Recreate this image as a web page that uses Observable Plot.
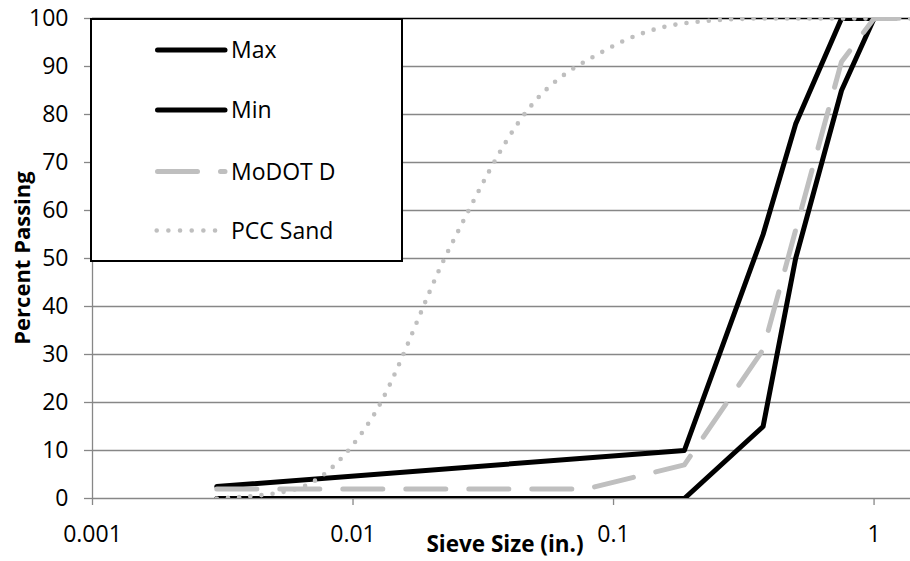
<!DOCTYPE html>
<html>
<head>
<meta charset="utf-8">
<script src="https://cdn.jsdelivr.net/npm/d3@7"></script>
<script src="https://cdn.jsdelivr.net/npm/@observablehq/plot@0.6"></script>
<style>
  body { margin: 0; background: #fff; }
  #chart { position: relative; width: 910px; height: 561px; overflow: hidden; }
</style>
</head>
<body>
<div id="chart"></div>
<script>
// Gradation curves: sieve opening (in.) vs. percent passing
const sieveMax = [0.003, 0.187, 0.375, 0.5, 0.75, 1];
const passMax  = [2.5, 10, 55, 78, 100, 100];

const sieveMin = [0.003, 0.187, 0.375, 0.5, 0.75, 1];
const passMin  = [0, 0, 15, 50, 85, 100];

const sieveModot = [0.003, 0.0787, 0.187, 0.375, 0.75, 1, 1.5];
const passModot  = [2, 2, 7, 31, 91, 100, 100];

const sievePcc = [0.003, 0.0059, 0.0117, 0.0234, 0.0469, 0.0937, 0.187, 0.375, 0.75, 1, 1.5];
const passPcc  = [0, 1.8, 16.4, 52, 81, 93.5, 99, 100, 100, 100, 100];

const seriesNames = ["Max", "Min", "MoDOT D", "PCC Sand"];
const yTicks = [0, 10, 20, 30, 40, 50, 60, 70, 80, 90, 100];
const xTicks = [0.001, 0.01, 0.1, 1];

const rows = (xs, ys) => xs.map((x, i) => ({x, y: ys[i]}));
const dataMax = rows(sieveMax, passMax);
const dataMin = rows(sieveMin, passMin);
const dataModot = rows(sieveModot, passModot);
const dataPcc = rows(sievePcc, passPcc);

const FONT = "'Open Sans', 'DejaVu Sans', sans-serif";
const GRID = "#878787";
const LIGHT = "#bfbfbf";

const lineStyles = [
  {stroke: "#000", strokeWidth: 5, strokeLinecap: "round", strokeLinejoin: "round"},
  {stroke: "#000", strokeWidth: 5, strokeLinecap: "round", strokeLinejoin: "round"},
  {stroke: LIGHT, strokeWidth: 5, strokeLinecap: "round", strokeLinejoin: "round", strokeDasharray: "40 23"},
  {stroke: LIGHT, strokeWidth: 4.6, strokeLinecap: "round", strokeLinejoin: "round", strokeDasharray: "0 11.2"}
];

const plot = Plot.plot({
  width: 910,
  height: 561,
  marginTop: 18,
  marginBottom: 63,
  marginLeft: 92,
  marginRight: 0,
  style: {fontFamily: FONT, fontSize: "23px", color: "#000", background: "#fff"},
  x: {type: "log", domain: [0.001, 1.38]},
  y: {domain: [0, 100]},
  marks: [
    Plot.ruleY(yTicks.filter(d => d > 0 && d < 100), {stroke: GRID, strokeWidth: 1.3}),
    Plot.ruleY([100], {stroke: "#000", strokeWidth: 1.5}),
    Plot.axisY({ticks: yTicks, tickSize: 8, tickPadding: 16, stroke: GRID, strokeWidth: 1.3, fill: "#000",
      label: null, tickFormat: d => String(d)}),
    Plot.axisX({ticks: xTicks, tickSize: 7, tickPadding: 20, stroke: GRID, strokeWidth: 1.3, fill: "#000",
      label: null, tickFormat: d => String(d)}),
    Plot.ruleX([0.001], {stroke: GRID, strokeWidth: 1.3}),
    Plot.ruleY([0], {stroke: GRID, strokeWidth: 1.3}),
    Plot.line(dataMax, {x: "x", y: "y", clip: true, ...lineStyles[0]}),
    Plot.line(dataMin, {x: "x", y: "y", clip: true, ...lineStyles[1]}),
    Plot.line(dataModot, {x: "x", y: "y", clip: true, ...lineStyles[2]}),
    Plot.line(dataPcc, {x: "x", y: "y", clip: true, curve: "monotone-x", ...lineStyles[3]})
  ]
});

document.getElementById("chart").appendChild(plot);

const svg = d3.select(plot);

// Axis titles
svg.append("text")
  .attr("x", 505).attr("y", 552)
  .attr("text-anchor", "middle")
  .attr("font-family", FONT).attr("font-size", 22.5).attr("font-weight", "bold")
  .attr("fill", "#000")
  .text("Sieve Size (in.)");

svg.append("text")
  .attr("transform", "translate(30,258) rotate(-90)")
  .attr("text-anchor", "middle")
  .attr("font-family", FONT).attr("font-size", 22).attr("font-weight", "bold")
  .attr("fill", "#000")
  .text("Percent Passing");

// Legend box in the upper-left corner of the plot
const legend = svg.append("g");
legend.append("rect")
  .attr("x", 91).attr("y", 19).attr("width", 311).attr("height", 242)
  .attr("fill", "#fff").attr("stroke", "#000").attr("stroke-width", 2);

const rowY = [50, 110, 171.5, 230.5];
seriesNames.forEach((name, i) => {
  const s = lineStyles[i];
  legend.append("line")
    .attr("x1", i === 3 ? 156.7 : 157.5).attr("x2", i === 3 ? 218 : 225)
    .attr("y1", rowY[i]).attr("y2", rowY[i])
    .attr("stroke", s.stroke).attr("stroke-width", s.strokeWidth)
    .attr("stroke-linecap", "round")
    .attr("stroke-dasharray", i === 3 ? "0 11.67" : (s.strokeDasharray || null));
  legend.append("text")
    .attr("x", 231).attr("y", rowY[i] + 8.3)
    .attr("text-anchor", "start")
    .attr("font-family", FONT).attr("font-size", 23)
    .attr("fill", "#000")
    .text(name);
});
</script>
</body>
</html>
